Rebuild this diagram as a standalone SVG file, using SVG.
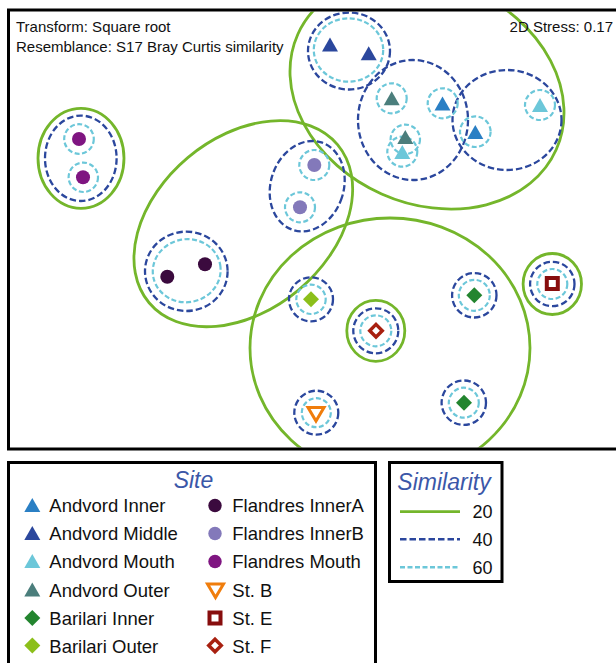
<svg xmlns="http://www.w3.org/2000/svg" xmlns:xlink="http://www.w3.org/1999/xlink" width="616" height="663" viewBox="0 0 616 663">
<style>
text{font-family:"Liberation Sans",Arial,Helvetica,sans-serif;fill:#111}
.g20{fill:none;stroke:#74b62b;stroke-width:2.8}
.b40{fill:none;stroke:#2b479d;stroke-width:2.3;stroke-dasharray:6.5 3}
.c60{fill:none;stroke:#6cc7d9;stroke-width:2.2;stroke-dasharray:5 2.5}
.frame{fill:none;stroke:#000;stroke-width:3}
.title{font-style:italic;font-size:23px;fill:#3b57a8;text-anchor:middle}
.lg{font-size:18.5px}
.hd{font-size:15px}
.aI{fill:#2a7fc4}.aM{fill:#2b479d}.aMo{fill:#6cc7d9}.aO{fill:#4b7e7c}
.bI{fill:#23852f}.bO{fill:#8cbf1a}
.fA{fill:#3b0a3e}.fB{fill:#8379ba}.fM{fill:#7f1581}
.sB{fill:#fff;stroke:#f07d0c;stroke-width:3}
.sE{fill:#fff;stroke:#870d0d;stroke-width:4}
.sF{fill:#fff;stroke:#a82010;stroke-width:3.4}
</style>
<defs>
<path id="tri" d="M0,-7 L8,7 L-8,7Z"/>
<path id="dia" d="M0,-8 L8,0 L0,8 L-8,0Z"/>
<path id="tdown" d="M-8,-6 L8,-6 L0,7.5Z"/>
<path id="diaO" d="M0,-6.3 L6.3,0 L0,6.3 L-6.3,0Z"/>
<rect id="sq" x="-5.5" y="-5.5" width="11" height="11"/>
<clipPath id="plotclip"><rect x="10" y="11.5" width="606" height="436"/></clipPath>
</defs>
<rect width="616" height="663" fill="#fff"/>

<g id="plot" clip-path="url(#plotclip)">
<g id="connectors">
<!-- 20% similarity contours -->
<ellipse class="g20" cx="81" cy="158.3" rx="43" ry="50"/>
<ellipse class="g20" cx="243.3" cy="223.7" rx="123" ry="86.3" transform="rotate(-40 243.3 223.7)"/>
<ellipse class="g20" cx="427" cy="92" rx="141.5" ry="111.6" transform="rotate(24 427 92)"/>
<ellipse class="g20" cx="390" cy="348" rx="140" ry="130"/>
<ellipse class="g20" cx="375.8" cy="330.8" rx="29" ry="30.5"/>
<ellipse class="g20" cx="552.3" cy="284" rx="29.2" ry="30.5"/>
<!-- 40% similarity contours -->
<ellipse class="b40" cx="80.8" cy="158.3" rx="35.8" ry="42.7"/>
<ellipse class="b40" cx="186.3" cy="271.3" rx="41.3" ry="39.7"/>
<ellipse class="b40" cx="307.2" cy="186.2" rx="36.5" ry="46" transform="rotate(18 307.2 186.2)"/>
<ellipse class="b40" cx="349" cy="51" rx="41" ry="38.5"/>
<ellipse class="b40" cx="413" cy="120" rx="55" ry="60"/>
<ellipse class="b40" cx="507" cy="120" rx="54.5" ry="50"/>
<circle class="b40" cx="311" cy="299.3" r="22"/>
<circle class="b40" cx="375.8" cy="330.8" r="22.5"/>
<circle class="b40" cx="474.3" cy="295.3" r="22.2"/>
<circle class="b40" cx="552.3" cy="284" r="22.2"/>
<circle class="b40" cx="316.3" cy="412.7" r="22"/>
<circle class="b40" cx="463.8" cy="402.7" r="22.2"/>
<!-- 60% similarity contours -->
<circle class="c60" cx="79" cy="139" r="14.8"/>
<circle class="c60" cx="83.3" cy="177.3" r="14.7"/>
<ellipse class="c60" cx="186.7" cy="270.7" rx="34" ry="31.5" transform="rotate(-10 186.7 270.7)"/>
<circle class="c60" cx="314.3" cy="165" r="15"/>
<circle class="c60" cx="300" cy="207.3" r="15"/>
<ellipse class="c60" cx="348.5" cy="50" rx="34.7" ry="31.7"/>
<circle class="c60" cx="391.7" cy="98.3" r="15"/>
<circle class="c60" cx="442.7" cy="103.3" r="15"/>
<circle class="c60" cx="475.3" cy="131.7" r="15.3"/>
<circle class="c60" cx="540" cy="105" r="15"/>
<circle class="c60" cx="405.3" cy="139.3" r="14.7"/>
<circle class="c60" cx="402.3" cy="151.7" r="15"/>
<circle class="c60" cx="311" cy="299.3" r="14.7"/>
<circle class="c60" cx="375.8" cy="330.8" r="15.5"/>
<circle class="c60" cx="474.3" cy="295.3" r="15.5"/>
<circle class="c60" cx="552.3" cy="284" r="15"/>
<circle class="c60" cx="316.3" cy="412.7" r="14.5"/>
<circle class="c60" cx="463.8" cy="402.7" r="15"/>
</g>

<g id="flandres-mouth"><circle class="fM" cx="79" cy="139" r="7"/><circle class="fM" cx="83" cy="177.3" r="7"/></g>
<g id="flandres-innerA"><circle class="fA" cx="167.3" cy="276.7" r="7"/><circle class="fA" cx="205" cy="264.3" r="7"/></g>
<g id="flandres-innerB"><circle class="fB" cx="314.3" cy="165" r="7"/><circle class="fB" cx="300" cy="207.3" r="7"/></g>
<g id="andvord-middle"><use href="#tri" class="aM" x="330" y="44.5"/><use href="#tri" class="aM" x="368.7" y="53.3"/></g>
<g id="andvord-outer"><use href="#tri" class="aO" x="391.7" y="98.3"/><use href="#tri" class="aO" x="405.3" y="137"/></g>
<g id="andvord-mouth"><use href="#tri" class="aMo" x="540" y="105"/><use href="#tri" class="aMo" x="402.3" y="152"/></g>
<g id="andvord-inner"><use href="#tri" class="aI" x="442.5" y="103.5"/><use href="#tri" class="aI" x="475.3" y="132"/></g>
<g id="barilari-outer"><use href="#dia" class="bO" x="311" y="299.3"/></g>
<g id="barilari-inner"><use href="#dia" class="bI" x="474.3" y="295.3"/><use href="#dia" class="bI" x="464" y="402.7"/></g>
<g id="st-f"><use href="#diaO" class="sF" x="376" y="330.7"/></g>
<g id="st-e"><use href="#sq" class="sE" x="552.3" y="283.5"/></g>
<g id="st-b"><use href="#tdown" class="sB" x="316" y="413.5"/></g>
</g>

<g id="plot-frame">
<rect class="frame" x="8.5" y="10" width="640" height="439"/>
<text class="hd" x="16" y="31.5">Transform: Square root</text>
<text class="hd" x="16" y="52">Resemblance: S17 Bray Curtis similarity</text>
<text class="hd" x="613" y="31.5" text-anchor="end">2D Stress: 0.17</text>
</g>

<g id="legend-site">
<rect class="frame" x="8.5" y="462.5" width="367" height="230"/>
<text class="title" x="193.5" y="487.5">Site</text>
<use href="#tri" class="aI" x="32.3" y="505"/><text class="lg" x="49.3" y="512.3">Andvord Inner</text>
<use href="#tri" class="aM" x="32.3" y="533"/><text class="lg" x="49.3" y="540.3">Andvord Middle</text>
<use href="#tri" class="aMo" x="32.3" y="561"/><text class="lg" x="49.3" y="568.3">Andvord Mouth</text>
<use href="#tri" class="aO" x="32.3" y="589.5"/><text class="lg" x="49.3" y="596.7">Andvord Outer</text>
<use href="#dia" class="bI" x="32.3" y="618"/><text class="lg" x="49.3" y="625">Barilari Inner</text>
<use href="#dia" class="bO" x="32.3" y="645.5"/><text class="lg" x="49.3" y="652.7">Barilari Outer</text>
<circle class="fA" cx="215" cy="505.5" r="6.7"/><text class="lg" x="232.3" y="512.3">Flandres InnerA</text>
<circle class="fB" cx="215" cy="533.5" r="6.7"/><text class="lg" x="232.3" y="540.3">Flandres InnerB</text>
<circle class="fM" cx="215" cy="561.5" r="6.7"/><text class="lg" x="232.3" y="568.3">Flandres Mouth</text>
<use href="#tdown" class="sB" x="215.5" y="590"/><text class="lg" x="232.3" y="596.7">St. B</text>
<use href="#sq" class="sE" x="215" y="618"/><text class="lg" x="232.3" y="625">St. E</text>
<use href="#diaO" class="sF" x="215" y="645.5"/><text class="lg" x="232.3" y="652.7">St. F</text>
</g>

<g id="legend-similarity">
<rect class="frame" x="389.5" y="462.5" width="112.5" height="119"/>
<text class="title" x="444" y="489.5">Similarity</text>
<line class="g20" x1="400" y1="511.7" x2="460" y2="511.7"/><text x="472.5" y="517.7" font-size="18">20</text>
<line class="b40" x1="400" y1="539.3" x2="460" y2="539.3" style="stroke-width:2.6"/><text x="472.5" y="546" font-size="18">40</text>
<line class="c60" x1="400" y1="567.3" x2="460" y2="567.3" style="stroke-width:2.6"/><text x="472.5" y="573.8" font-size="18">60</text>
</g>
</svg>
